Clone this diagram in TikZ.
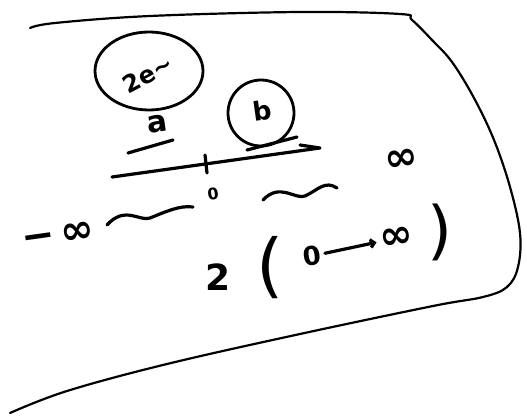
\documentclass[tikz,border=0pt]{standalone}
\usepackage{fontspec}
\setmainfont{DejaVu Sans}
\usepackage{tikz}
\usetikzlibrary{arrows.meta, positioning}

\begin{document}
\begin{tikzpicture}[x=1pt, y=-1pt, line cap=round, line join=round,
    ink/.style={draw=black, line width=3.2pt},
    frame/.style={draw=black, line width=2.2pt},
    hand/.style={inner sep=0pt, rotate=8, font=\fontsize{26}{26}\selectfont\bfseries},
    infty/.style={hand, font=\fontsize{40}{40}\selectfont\bfseries},
    big/.style={inner sep=0pt, font=\fontsize{36}{36}\selectfont\bfseries},
    ring/.style={draw, line width=2.8pt}]
  \useasboundingbox (0,0) rectangle (527,417);

  % the page outline
  \draw[frame] plot[smooth, tension=0.6] coordinates {(30,28) (55,23) (150,16) (300,12) (400,14) (412,20)
    (432,40) (452,62) (474,98) (494,140) (510,187) (520,233) (518,267) (507,287) (483,297) (433,306)
    (300,334) (167,364) (67,391) (10,413)};

  % top circle and limits
  \draw[ring] (149,71) ellipse [x radius=54, y radius=39];
  \node[hand, rotate=20, font=\fontsize{24}{24}\selectfont\bfseries] (twoa) at (148,74) {2e∼};
  \node[hand, font=\fontsize{30}{30}\selectfont\bfseries] (lima) at (157,124) {a};
  \draw[ring] (261,113) circle [radius=33];
  \node[hand] (limb) at (262,111) {b};
  \draw[ink] (128,153) -- (173,140);
  \draw[ink] (247,150) -- (297,137);

  % number line
  \coordinate (lstart) at (112,177);
  \coordinate (lend) at (320,148);
  \draw[ink] (lstart) -- (lend) -- (300,145);
  \draw[ink] (205,155) -- (207,173);
  \node[hand, font=\fontsize{16}{16}\selectfont\bfseries] (zero) at (213,194) {0};

  \node[infty] (minf) at (58,236) {−\,∞};
  \node[infty] (pinf) at (402,160) {∞};
  \draw[ink] (107,225) .. controls (125,205) and (140,222) .. (150,218) .. controls (165,212) and (180,205) .. (193,207);
  \draw[ink] (263,200) .. controls (280,182) and (295,200) .. (305,196) .. controls (318,190) and (325,180) .. (337,188);

  % twice the half line
  \node[big] (two) at (218,277) {2};
  \node[big, font=\fontsize{70}{70}\selectfont] (lpar) at (270,268) {(};
  \node[hand] (zero2) at (312,256) {0};
  \node[infty] (inf2) at (397,238) {∞};
  \node[big, font=\fontsize{64}{64}\selectfont] (rpar) at (440,232) {)};
  \draw[ink, -{Straight Barb[length=4pt]}, shorten <=4pt, shorten >=4pt] (zero2) -- (inf2);
\end{tikzpicture}
\end{document}
